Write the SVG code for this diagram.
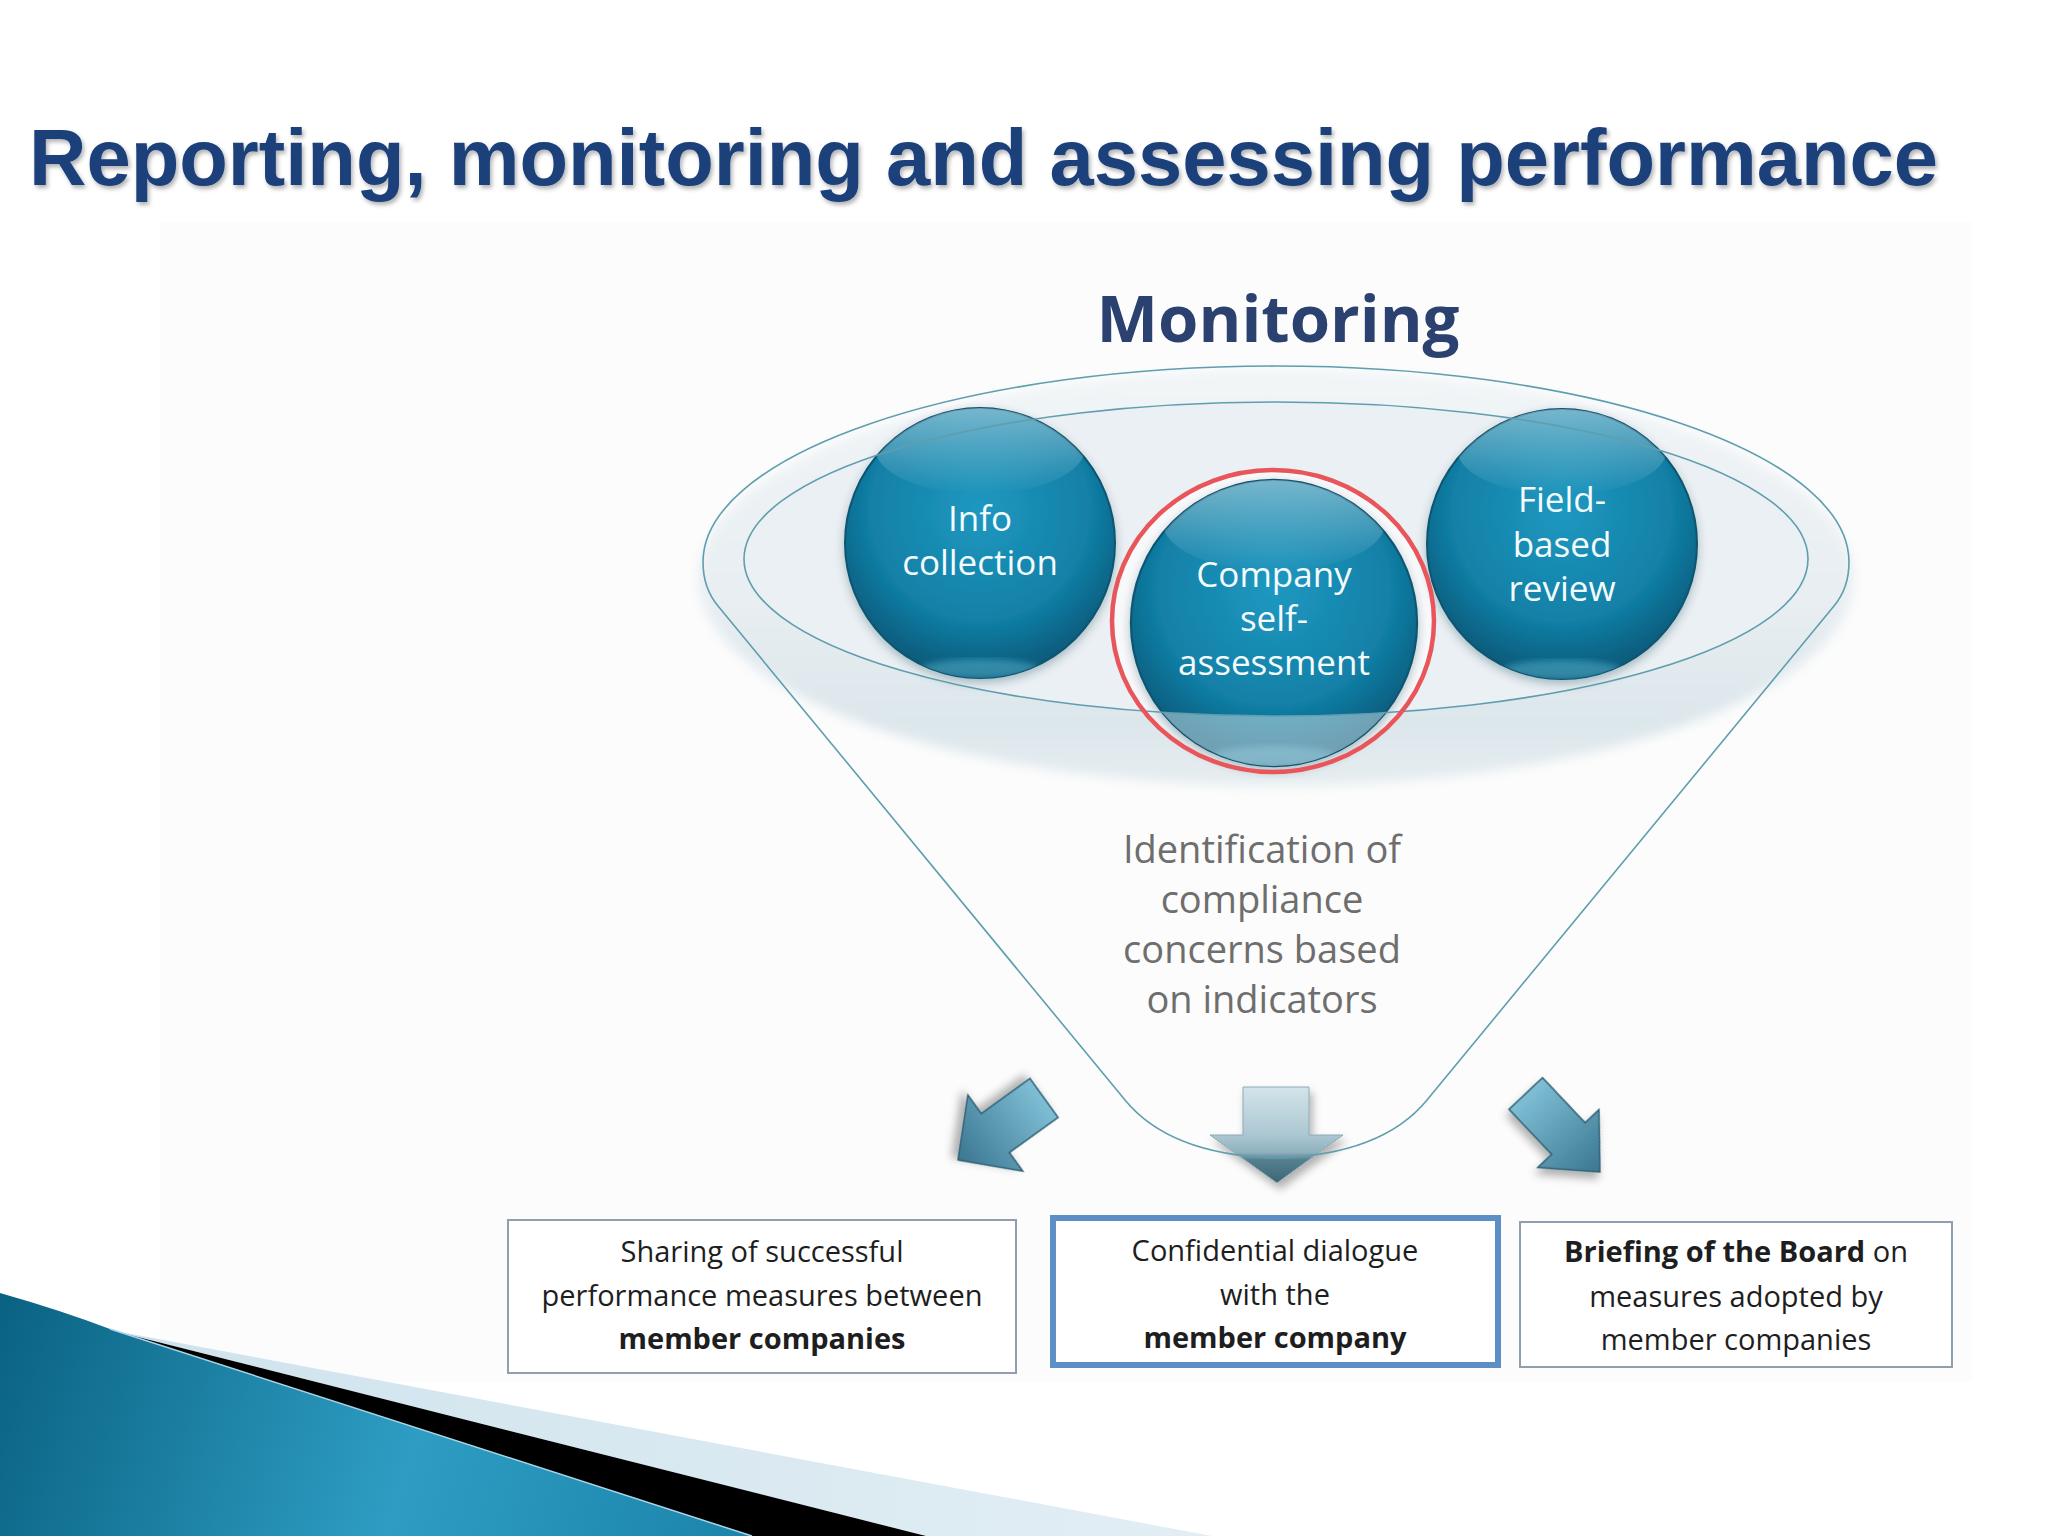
<svg xmlns="http://www.w3.org/2000/svg" xmlns:xlink="http://www.w3.org/1999/xlink" width="2048" height="1536" viewBox="0 0 2048 1536">
<defs>
<style>
.title{font-family:"Liberation Sans",Arial,sans-serif;font-weight:bold;font-size:80px;fill:#1a3f7a}
.mon{font-family:"Open Sans","Noto Sans",sans-serif;font-weight:bold;font-size:64px;fill:#2b4170}
.ct{font-family:"Open Sans","Noto Sans",sans-serif;font-size:35px;fill:#f4fbfd;text-anchor:middle}
.idt{font-family:"Open Sans","Noto Sans",sans-serif;font-size:38px;fill:#6e6e6e;text-anchor:middle}
.bt{font-family:"Open Sans","Noto Sans",sans-serif;font-size:29px;fill:#1e1e1e;text-anchor:middle}
.b{font-weight:bold}
.line{fill:none;stroke:#5f9eae;stroke-width:1.6}
.box{fill:#ffffff;stroke:#8e9fb0;stroke-width:2}
.arr{stroke:#2e5f75;stroke-width:1.5;filter:url(#sh)}
</style>
<filter id="tsh" x="-5%" y="-20%" width="110%" height="150%"><feDropShadow dx="2" dy="3" stdDeviation="2" flood-color="#000" flood-opacity="0.3"/></filter>
<filter id="sh" x="-30%" y="-30%" width="160%" height="160%"><feDropShadow dx="3" dy="6" stdDeviation="4" flood-color="#000" flood-opacity="0.3"/></filter>
<filter id="csh" x="-20%" y="-20%" width="140%" height="140%"><feDropShadow dx="0" dy="4" stdDeviation="5" flood-color="#0a3a50" flood-opacity="0.3"/></filter>
<filter id="blur" x="-10%" y="-20%" width="120%" height="140%"><feGaussianBlur stdDeviation="6"/></filter>
<filter id="blur2"><feGaussianBlur stdDeviation="3"/></filter>
<linearGradient id="disc" x1="0" y1="0" x2="0" y2="1">
<stop offset="0" stop-color="#f1f5f7"/><stop offset="0.55" stop-color="#e8eef2"/><stop offset="0.85" stop-color="#dce6eb"/><stop offset="1" stop-color="#e6edf0"/>
</linearGradient>
<radialGradient id="gc" cx="0.5" cy="0.38" r="0.62">
<stop offset="0" stop-color="#1f98c0"/><stop offset="0.65" stop-color="#1280a7"/><stop offset="1" stop-color="#0a5878"/>
</radialGradient>
<linearGradient id="hl" x1="0" y1="0" x2="0" y2="1">
<stop offset="0" stop-color="#ffffff" stop-opacity="0.45"/><stop offset="1" stop-color="#ffffff" stop-opacity="0"/>
</linearGradient>
<clipPath id="cc"><circle cx="0" cy="0" r="135"/></clipPath>
<g id="bubble">
<circle cx="0" cy="0" r="135" fill="url(#gc)" stroke="#0c5470" stroke-width="2"/>
<g clip-path="url(#cc)">
<ellipse cx="0" cy="-95" rx="105" ry="46" fill="url(#hl)"/>
<ellipse cx="0" cy="126" rx="60" ry="10" fill="#6ccbe4" opacity="0.4" filter="url(#blur2)"/>
</g>
</g>
<linearGradient id="ga" x1="0" y1="0" x2="1" y2="0">
<stop offset="0" stop-color="#7fbfd5"/><stop offset="1" stop-color="#3a7690"/>
</linearGradient>
<linearGradient id="gm" x1="0" y1="0" x2="0" y2="1">
<stop offset="0" stop-color="#d4e4ea"/><stop offset="0.5" stop-color="#abc7d2"/><stop offset="0.68" stop-color="#8fb1bd"/><stop offset="0.76" stop-color="#557f8d"/><stop offset="1" stop-color="#3b6777"/>
</linearGradient>
<linearGradient id="teal" x1="0" y1="1300" x2="760" y2="1536" gradientUnits="userSpaceOnUse">
<stop offset="0" stop-color="#0a6282"/><stop offset="0.55" stop-color="#2e9dc3"/><stop offset="1" stop-color="#1b83aa"/>
</linearGradient>
<linearGradient id="lb" x1="0" y1="0" x2="1" y2="0">
<stop offset="0" stop-color="#cfe3ed"/><stop offset="1" stop-color="#e2eef4"/>
</linearGradient>
<clipPath id="ccomp"><circle cx="1274" cy="623" r="143"/></clipPath>
</defs>

<rect width="2048" height="1536" fill="#ffffff"/>
<rect x="160" y="222" width="1812" height="1160" fill="#fcfcfc"/>

<text class="title" x="29" y="185" textLength="1909" lengthAdjust="spacingAndGlyphs" filter="url(#tsh)">Reporting, monitoring and assessing performance</text>

<g id="monitoring">
<text class="mon" x="1278" y="342" text-anchor="middle" textLength="363" lengthAdjust="spacingAndGlyphs">Monitoring</text>
</g>

<g id="funnel-disc">
<ellipse cx="1276" cy="578" rx="578" ry="208" fill="url(#disc)" filter="url(#blur)"/>
<ellipse cx="1276" cy="559" rx="532" ry="157" fill="#eaf0f3"/>
</g>

<g id="ring-bg">
<ellipse cx="1273" cy="621" rx="161" ry="151" fill="#ffffff" opacity="0.6"/>
</g>

<g id="info-collection" filter="url(#csh)">
<use xlink:href="#bubble" transform="translate(980,543)"/>
</g>
<g id="field-based-review" filter="url(#csh)">
<use xlink:href="#bubble" transform="translate(1562,544)"/>
</g>
<g id="company-self-assessment" filter="url(#csh)">
<use xlink:href="#bubble" transform="translate(1274,623) scale(1.06)"/>
</g>
<g clip-path="url(#ccomp)">
<path d="M1100,450 H1450 V800 H1100 Z M744,559 A532,157 0 1 0 1808,559 A532,157 0 1 0 744,559 Z" fill-rule="evenodd" fill="#d3e3ea" opacity="0.5"/>
</g>

<g id="arrows">
<path class="arr" fill="url(#ga)" transform="translate(958,1160) rotate(144.2)" d="M0,0 L-46,-47 L-46,-24 L-106,-24 L-106,24 L-46,24 L-46,47 Z"/>
<path class="arr" fill="url(#ga)" transform="translate(1600,1172) rotate(46.6)" d="M0,0 L-46,-42 L-46,-23 L-108,-23 L-108,23 L-46,23 L-46,42 Z"/>
<path fill="url(#gm)" stroke="#8aaab6" stroke-width="1" filter="url(#sh)" d="M1243,1087 H1309 V1135 H1343 L1277,1183 L1210,1135 H1243 Z"/>
</g>

<g id="connectors">
<ellipse class="line" cx="1276" cy="559" rx="532" ry="157"/>
<path class="line" d="M703,562 A573,196 0 0 1 1849,562 C1849,580 1844,594 1834,606 L1427,1100 Q1382,1155 1276,1158 Q1170,1155 1125,1100 L718,606 C708,594 703,580 703,562 Z"/>
<ellipse cx="1273" cy="621" rx="161" ry="151" fill="none" stroke="#e8555b" stroke-width="4.5"/>
</g>

<g id="labels-circles">
<text class="ct" x="980" y="531">Info</text>
<text class="ct" x="980" y="575">collection</text>
<text class="ct" x="1274" y="587">Company</text>
<text class="ct" x="1274" y="631">self-</text>
<text class="ct" x="1274" y="675">assessment</text>
<text class="ct" x="1562" y="512">Field-</text>
<text class="ct" x="1562" y="557">based</text>
<text class="ct" x="1562" y="601">review</text>
</g>

<g id="identification">
<text class="idt" x="1262" y="863">Identification  of</text>
<text class="idt" x="1262" y="913">compliance</text>
<text class="idt" x="1262" y="963">concerns  based</text>
<text class="idt" x="1262" y="1013">on indicators</text>
</g>

<g id="box-sharing">
<rect class="box" x="508" y="1220" width="508" height="153"/>
<text class="bt" x="762" y="1262">Sharing of successful</text>
<text class="bt" x="762" y="1306">performance measures between</text>
<text class="bt b" x="762" y="1349">member companies</text>
</g>

<g id="box-dialogue">
<rect x="1053" y="1218" width="445" height="147" fill="#ffffff" stroke="#5b8fc5" stroke-width="6"/>
<text class="bt" x="1275" y="1261">Confidential dialogue</text>
<text class="bt" x="1275" y="1305">with the</text>
<text class="bt b" x="1275" y="1348">member company</text>
</g>

<g id="box-briefing">
<rect class="box" x="1520" y="1222" width="432" height="145" stroke="#8c9aa8"/>
<text class="bt" x="1736" y="1262"><tspan class="b">Briefing of the Board</tspan> on</text>
<text class="bt" x="1736" y="1307">measures adopted by</text>
<text class="bt" x="1736" y="1350">member companies</text>
</g>

<g id="swoosh">
<path d="M110,1330 L1212,1536 L926,1536 Z" fill="url(#lb)"/>
<path d="M110,1330 L926,1536 L752,1536 Z" fill="#000000"/>
<path d="M0,1293 Q60,1310 110,1329 L752,1536 L0,1536 Z" fill="url(#teal)"/>
<path d="M110,1329 L752,1536" stroke="#a9d6e6" stroke-width="1.5" fill="none"/>
</g>
</svg>
